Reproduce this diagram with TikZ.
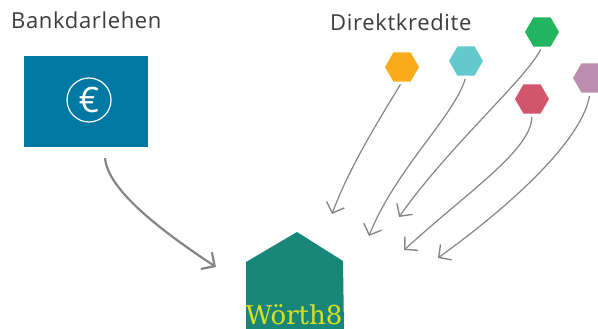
\documentclass[tikz,border=0pt]{standalone}
\usepackage{fontspec}
\setmainfont{Open Sans}
\newfontfamily\labelfont[LetterSpace=3]{Open Sans}
\newfontfamily\housefont{DejaVu Serif}
\usepackage{xcolor}
\usetikzlibrary{shapes.geometric, arrows.meta, positioning}
\definecolor{bankblue}{HTML}{0078A4}
\definecolor{housegreen}{HTML}{18877A}
\definecolor{houseyellow}{HTML}{DCE01E}
\definecolor{lineGray}{HTML}{858585}
\definecolor{textGray}{HTML}{3C3C3C}
\definecolor{hexorange}{HTML}{F9AB1C}
\definecolor{hexteal}{HTML}{64C8CE}
\definecolor{hexgreen}{HTML}{22B45F}
\definecolor{hexred}{HTML}{D2566B}
\definecolor{hexpurple}{HTML}{BC8DAE}
\tikzstyle{hexa} = [regular polygon, regular polygon sides=6, minimum size=34pt, inner sep=0pt]
\tikzstyle{heading} = [anchor=base west, inner sep=0pt, text=textGray, font=\labelfont\fontsize{22}{22}\selectfont]
\tikzstyle{arrow} = [lineGray, line width=1.2pt, -{Straight Barb[length=9pt,width=19pt,line width=1.4pt]}]
\tikzstyle{bigarrow} = [lineGray, line width=2.2pt, -{Straight Barb[length=10pt,width=20pt,line width=2.2pt]}]
\begin{document}
\begin{tikzpicture}[x=1pt,y=-1pt]
\useasboundingbox (0,0) rectangle (598,329);
% Nodes
\node (bankdarlehen) [heading] at (11,29) {Bankdarlehen};
\node (direktkredite) [heading] at (330,31) {Direktkredite};
\node (bank) [rectangle, fill=bankblue, minimum width=124pt, minimum height=91pt, inner sep=0pt] at (86,101.5) {};
\node (euro) [circle, draw=white, line width=1.2pt, minimum size=44pt, inner sep=0pt, text=white, font=\fontsize{35}{35}\selectfont] at (89,100) {€};
\node (orange) [hexa, fill=hexorange] at (402,67) {};
\node (teal) [hexa, fill=hexteal] at (466,61) {};
\node (green) [hexa, fill=hexgreen] at (542,32) {};
\node (red) [hexa, fill=hexred] at (532,99) {};
\node (purple) [hexa, fill=hexpurple] at (590,78) {};
\fill [housegreen] (246,262) -- (297,232) -- (343,261) -- (344,329) -- (246,329) -- cycle;
\node (woerth) [text=houseyellow, inner sep=0pt, anchor=base, font=\housefont\fontsize{26}{26}\selectfont] at (294,324) {Wörth8};

% Arrow ends
\coordinate (orangeend) at (332,214);
\coordinate (tealend) at (369,236);
\coordinate (greenend) at (399,217);
\coordinate (redend) at (404,250);
\coordinate (purpleend) at (438,258);
\coordinate (houseend) at (216,267);

% Arrows
\draw [arrow, shorten <=3pt] (orange.south) .. controls (385,110) and (350,165) .. (orangeend);
\draw [arrow, shorten <=3pt] (teal.south) .. controls (455,115) and (395,170) .. (tealend);
\draw [arrow, shorten <=3pt] (green.south) .. controls (525,80) and (450,145) .. (greenend);
\draw [arrow, shorten <=3pt] (red.south) .. controls (531,150) and (470,190) .. (redend);
\draw [arrow, shorten <=3pt] (purple.south) .. controls (583,135) and (525,195) .. (purpleend);
\draw [bigarrow, shorten <=11pt] ([xshift=18pt]bank.south) .. controls (108,190) and (160,230) .. (houseend);
\end{tikzpicture}
\end{document}
